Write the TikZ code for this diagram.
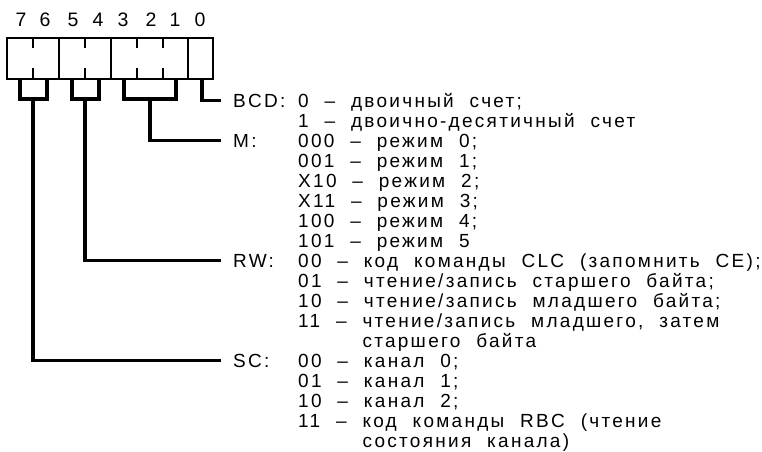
\documentclass[tikz,border=0pt]{standalone}
\usepackage{fontspec}
\setmainfont{Liberation Sans}[LetterSpace=12,WordSpace=2.1]
\begin{document}
\begin{tikzpicture}[x=1pt,y=-1pt,
  field/.style={draw,line width=1.8pt,minimum height=41pt,inner sep=0pt,anchor=center},
  tick/.style={line width=1.6pt},
  conn/.style={line width=3.2pt,line cap=butt,line join=miter},
  bitnum/.style={inner sep=0pt,font=\fontsize{19.5}{20}\selectfont},
  lbl/.style={inner sep=0pt,anchor=base west,font=\fontsize{19}{20}\selectfont},
  vals/.style={inner sep=0pt,anchor=base west,font=\fontsize{19}{20}\selectfont}]
\useasboundingbox (0,0) rectangle (762,451);
% register fields
\node[field,minimum width=52pt] (f76) at (33,58.5) {};
\node[field,minimum width=52pt] (f54) at (85,58.5) {};
\node[field,minimum width=77pt] (f321) at (149.5,58.5) {};
\node[field,minimum width=25pt] (f0) at (200.5,58.5) {};
% bit ticks
\foreach \x in {33,85,137,163}{
  \draw[tick] (\x,38) -- (\x,48);
  \draw[tick] (\x,68) -- (\x,79);
}
% bit numbers
\node[bitnum] (b7) at (21,20) {7};
\node[bitnum] (b6) at (45,20) {6};
\node[bitnum] (b5) at (73,20) {5};
\node[bitnum] (b4) at (98,20) {4};
\node[bitnum] (b3) at (123,20) {3};
\node[bitnum] (b2) at (151,20) {2};
\node[bitnum] (b1) at (175,20) {1};
\node[bitnum] (b0) at (200,20) {0};
% labels
\node[lbl] (lbcd) at (233,107) {BCD:};
\node[lbl] (lm) at (233,147) {M:};
\node[lbl] (lrw) at (233,267) {RW:};
\node[lbl] (lsc) at (233,367) {SC:};
% values
\node[vals] (vbcd) at (298,107) {\begin{tabular}[t]{@{}l@{}}
0 – двоичный счет;\\
1 – двоично-десятичный счет\end{tabular}};
\node[vals] (vm) at (298,147) {\begin{tabular}[t]{@{}l@{}}
000 – режим 0;\\
001 – режим 1;\\
X10 – режим 2;\\
X11 – режим 3;\\
100 – режим 4;\\
101 – режим 5\end{tabular}};
\node[vals] (vrw) at (298,267) {\begin{tabular}[t]{@{}l@{}}
00 – код команды CLC (запомнить CE);\\
01 – чтение/запись старшего байта;\\
10 – чтение/запись младшего байта;\\
11 – чтение/запись младшего, затем\\
\hphantom{11 –}\ старшего байта\end{tabular}};
\node[vals] (vsc) at (298,367) {\begin{tabular}[t]{@{}l@{}}
00 – канал 0;\\
01 – канал 1;\\
10 – канал 2;\\
11 – код команды RBC (чтение\\
\hphantom{11 –}\ состояния канала)\end{tabular}};
% brackets under the fields
\draw[conn] (20,79) -- (20,99) -- (47,99) -- (47,79);
\draw[conn] (72,79) -- (72,99) -- (99,99) -- (99,79);
\draw[conn] (124,79) -- (124,99) -- (176,99) -- (176,79);
% connectors to labels
\draw[conn] (f0.south -| 202,0) |- ([xshift=-12pt]lbcd.west);
\draw[conn] (150,99) |- ([xshift=-12pt]lm.west);
\draw[conn] (85,99) |- ([xshift=-12pt]lrw.west);
\draw[conn] (33,99) |- ([xshift=-12pt]lsc.west);
\end{tikzpicture}
\end{document}
